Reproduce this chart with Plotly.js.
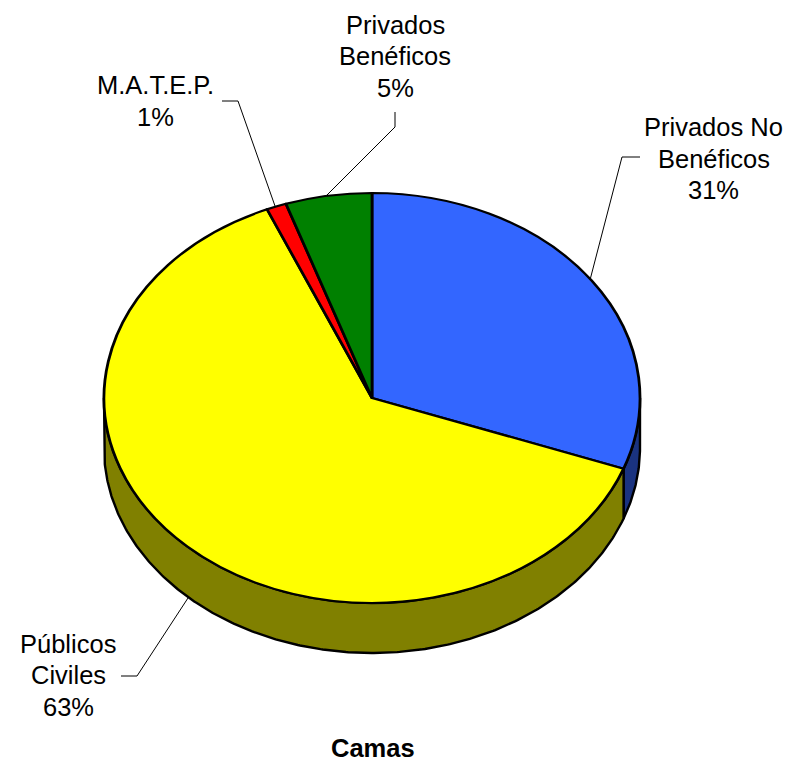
<!DOCTYPE html>
<html><head><meta charset="utf-8">
<script src="https://cdn.plot.ly/plotly-3.0.1.min.js"></script>
<style>html,body{margin:0;padding:0;background:#fff;overflow:hidden}#c{width:791px;height:763px}</style>
</head><body><div id="c"></div>
<script>
const categories = ["Privados No Benéficos", "Públicos Civiles", "M.A.T.E.P.", "Privados Benéficos"];
const values = [30.6, 63.0, 1.2, 5.2];
const percentLabels = ["31%", "63%", "1%", "5%"];
const labelLines = [["Privados No", "Benéficos"], ["Públicos", "Civiles"], ["M.A.T.E.P."], ["Privados", "Benéficos"]];
const topColors = ["#3366FF", "#FFFF00", "#FF0000", "#008000"];
const wallColors = ["#1A3380", "#808000", "#800000", "#004000"];
const chartTitle = "Camas";

const W = 791, H = 763, cx = 372, cy = 398, rx = 268, ry = 205, depth = 50;
const font = "Liberation Sans, Arial, sans-serif";
const total = values.reduce((a, b) => a + b, 0);

// side wall of the pie, from each slice's value (only the front half shows)
const traces = [];
let cum = 0;
values.forEach((v, i) => {
  const a0 = cum / total * 360; cum += v; const a1 = cum / total * 360;
  const s = Math.max(a0, 90), e = Math.min(a1, 270);
  if (e <= s) return;
  const xs = [], ys = [];
  const steps = Math.ceil((e - s) * 2);
  for (let k = 0; k <= steps; k++) {
    const t = (s + (e - s) * k / steps) * Math.PI / 180;
    xs.push(cx + rx * Math.sin(t)); ys.push(cy - ry * Math.cos(t));
  }
  for (let k = steps; k >= 0; k--) {
    const t = (s + (e - s) * k / steps) * Math.PI / 180;
    xs.push(cx + rx * Math.sin(t)); ys.push(cy - ry * Math.cos(t) + depth);
  }
  xs.push(xs[0]); ys.push(ys[0]);
  traces.push({type: "scatter", mode: "lines", x: xs, y: ys, fill: "toself", fillcolor: wallColors[i],
    line: {color: "#000", width: 2.4}, hoverinfo: "skip", showlegend: false});
});

// leader lines
const leaders = [
  {x: [640, 622, 590], y: [157, 157, 280]},
  {x: [121, 137, 188], y: [676, 676, 598]},
  {x: [222, 238, 275], y: [101, 101, 206]},
  {x: [395, 395, 326], y: [112, 127, 196]}
];
leaders.forEach(l => traces.push({type: "scatter", mode: "lines", x: l.x, y: l.y,
  line: {color: "#000", width: 1}, hoverinfo: "skip", showlegend: false}));

// top face
traces.push({type: "pie", values: values, labels: categories, sort: false, direction: "clockwise", rotation: 0,
  marker: {colors: topColors, line: {color: "#000", width: 2.8}}, textinfo: "none", hoverinfo: "label+percent",
  showlegend: false,
  domain: {x: [(cx - rx) / W, (cx + rx) / W], y: [(H - cy - rx) / H, (H - cy + rx) / H]}});

// labels
const labelPos = [{x: 713.5, y: 127}, {x: 68, y: 643.5}, {x: 155, y: 85}, {x: 395, y: 24.5}];
const lineGap = 31.5;
const annotations = [];
categories.forEach((c, i) => {
  labelLines[i].concat(percentLabels[i]).forEach((t, j) => annotations.push({
    text: t, xref: "x", yref: "y", x: labelPos[i].x, y: labelPos[i].y + j * lineGap,
    showarrow: false, xanchor: "center", yanchor: "middle",
    font: {family: font, size: 25.5, color: "#000"}}));
});
annotations.push({text: "<b>" + chartTitle + "</b>", xref: "x", yref: "y", x: 372.5, y: 748, showarrow: false,
  xanchor: "center", yanchor: "middle", font: {family: font, size: 25.5, color: "#000"}});

const hidden = {visible: false, fixedrange: true};
Plotly.newPlot("c", traces, {
  width: W, height: H, margin: {l: 0, r: 0, t: 0, b: 0}, paper_bgcolor: "#fff", plot_bgcolor: "#fff",
  xaxis: Object.assign({range: [0, W]}, hidden),
  yaxis: Object.assign({range: [H, 0]}, hidden),
  annotations: annotations, showlegend: false
}, {displayModeBar: false, staticPlot: false}).then(gd => {
  // tilt the circular pie into the reference's ellipse
  gd.querySelector(".pielayer").setAttribute("transform",
    `translate(0,${cy}) scale(1,${ry / rx}) translate(0,${-cy})`);
});
</script></body></html>
